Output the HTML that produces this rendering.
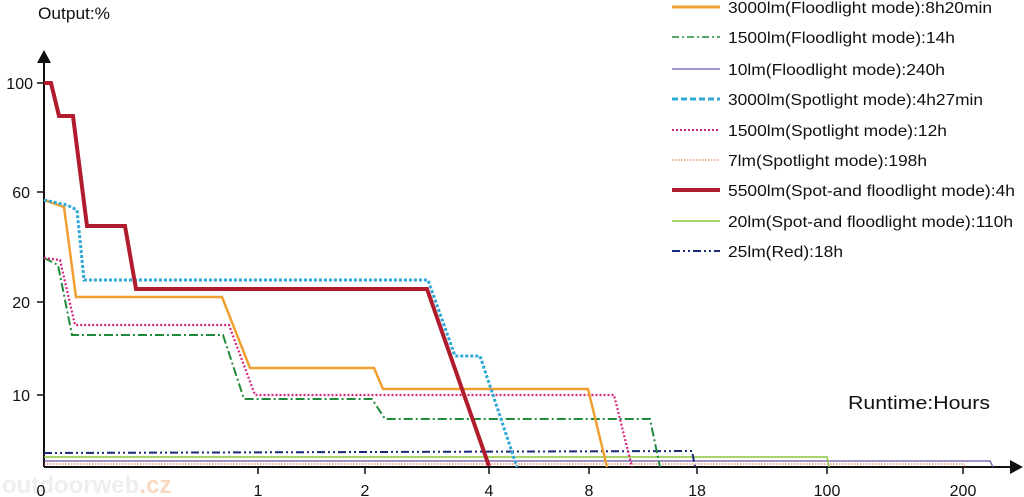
<!DOCTYPE html>
<html><head><meta charset="utf-8"><style>
html,body{margin:0;padding:0;background:#fff;}
svg{display:block;font-family:"Liberation Sans",sans-serif;}
</style></head><body>
<svg width="1024" height="497" viewBox="0 0 1024 497" xmlns="http://www.w3.org/2000/svg">
<text x="38" y="19" font-size="17" fill="#111" textLength="72" lengthAdjust="spacingAndGlyphs">Output:%</text>
<!-- axes -->
<line x1="44" y1="60" x2="44" y2="467" stroke="#111" stroke-width="2"/>
<polygon points="37,63 51,63 44,50" fill="#111"/>
<line x1="44" y1="467" x2="1012" y2="467" stroke="#111" stroke-width="2"/>
<polygon points="1010,460 1010,474 1023,467" fill="#111"/>
<g font-size="16" fill="#111" text-anchor="end">
<text x="33" y="89">100</text><text x="30" y="198">60</text><text x="30" y="308">20</text><text x="30" y="401">10</text>
</g>
<g stroke="#111" stroke-width="1.5">
<line x1="37" y1="83" x2="44" y2="83"/><line x1="37" y1="192" x2="44" y2="192"/><line x1="37" y1="302" x2="44" y2="302"/><line x1="37" y1="395" x2="44" y2="395"/>
<line x1="258" y1="467" x2="258" y2="474"/><line x1="365" y1="467" x2="365" y2="474"/><line x1="489" y1="467" x2="489" y2="474"/><line x1="589" y1="467" x2="589" y2="474"/><line x1="697" y1="467" x2="697" y2="474"/><line x1="827" y1="467" x2="827" y2="474"/><line x1="963" y1="467" x2="963" y2="474"/>
</g>
<text x="2" y="493" font-size="24" font-weight="bold" fill="#eeeeee">outdoorweb<tspan fill="#f8d8c0">.cz</tspan></text>
<g font-size="16" fill="#111" text-anchor="middle">
<text x="41" y="496">0</text><text x="258" y="496">1</text><text x="365" y="496">2</text><text x="489" y="496">4</text><text x="589" y="496">8</text><text x="697" y="496">18</text><text x="827" y="496">100</text><text x="963" y="496">200</text>
</g>
<text x="848" y="409" font-size="18" fill="#111" textLength="142" lengthAdjust="spacingAndGlyphs">Runtime:Hours</text>
<!-- series -->
<g fill="none">
<polyline points="44,464 963,464 966,467" stroke="#e0603a" stroke-width="1" stroke-dasharray="1.5,1.5"/>
<polyline points="44,461 990,461 993,467" stroke="#6a4fa3" stroke-width="1.2"/>
<polyline points="44,457 827,457 829,467" stroke="#8cc63f" stroke-width="1.5"/>
<polyline points="44,453 692,451 695,467" stroke="#1a2a7a" stroke-width="2" stroke-dasharray="8,3,2,3,2,3"/>
<polyline points="44,258 58,265 72,335 223,335 244,399 372,399 385,419 650,419 660,467" stroke="#1f8a3a" stroke-width="2" stroke-dasharray="9,3,2,3"/>
<polyline points="44,258 60,260 75,325 229,325 255,395 614,395 632,467" stroke="#d6247a" stroke-width="2.2" stroke-dasharray="2,2"/>
<polyline points="44,200 64,207 76,297 222,297 250,368 374,368 383,389 588,389 607,467" stroke="#f0a030" stroke-width="2.5"/>
<polyline points="44,200 67,205 77,210 84,280 428,280 455,356 480,356 517,467" stroke="#30a8d8" stroke-width="3" stroke-dasharray="3,2"/>
<polyline points="44,83 51,83 59,116 73,116 87,226 125,226 136,289 427,289 489,466" stroke="#b01c2e" stroke-width="4"/>
</g>
<!-- legend -->
<g fill="none">
<line x1="672" y1="7" x2="720" y2="7" stroke="#f0a030" stroke-width="3"/>
<line x1="672" y1="37" x2="720" y2="37" stroke="#1f8a3a" stroke-width="1.5" stroke-dasharray="7,3,2,3"/>
<line x1="672" y1="69" x2="720" y2="69" stroke="#6a4fa3" stroke-width="1.2"/>
<line x1="672" y1="99" x2="720" y2="99" stroke="#30a8d8" stroke-width="3" stroke-dasharray="6,3"/>
<line x1="672" y1="130" x2="720" y2="130" stroke="#d6247a" stroke-width="2" stroke-dasharray="2,2"/>
<line x1="672" y1="160" x2="720" y2="160" stroke="#e0603a" stroke-width="1" stroke-dasharray="1.5,1.5"/>
<line x1="672" y1="190" x2="720" y2="190" stroke="#b01c2e" stroke-width="4"/>
<line x1="672" y1="221" x2="720" y2="221" stroke="#8cc63f" stroke-width="1.5"/>
<line x1="672" y1="251" x2="720" y2="251" stroke="#1a2a7a" stroke-width="2" stroke-dasharray="8,3,2,3,2,3"/>
</g>
<g font-size="16" fill="#111" lengthAdjust="spacingAndGlyphs">
<text x="728" y="13" textLength="264" lengthAdjust="spacingAndGlyphs">3000lm(Floodlight mode):8h20min</text>
<text x="728" y="43" textLength="227" lengthAdjust="spacingAndGlyphs">1500lm(Floodlight mode):14h</text>
<text x="728" y="75" textLength="217" lengthAdjust="spacingAndGlyphs">10lm(Floodlight mode):240h</text>
<text x="728" y="105" textLength="255" lengthAdjust="spacingAndGlyphs">3000lm(Spotlight mode):4h27min</text>
<text x="728" y="136" textLength="219" lengthAdjust="spacingAndGlyphs">1500lm(Spotlight mode):12h</text>
<text x="728" y="166" textLength="199" lengthAdjust="spacingAndGlyphs">7lm(Spotlight mode):198h</text>
<text x="728" y="196" textLength="287" lengthAdjust="spacingAndGlyphs">5500lm(Spot-and floodlight mode):4h</text>
<text x="728" y="227" textLength="285" lengthAdjust="spacingAndGlyphs">20lm(Spot-and floodlight mode):110h</text>
<text x="728" y="257" textLength="115" lengthAdjust="spacingAndGlyphs">25lm(Red):18h</text>
</g>
</svg>
</body></html>
